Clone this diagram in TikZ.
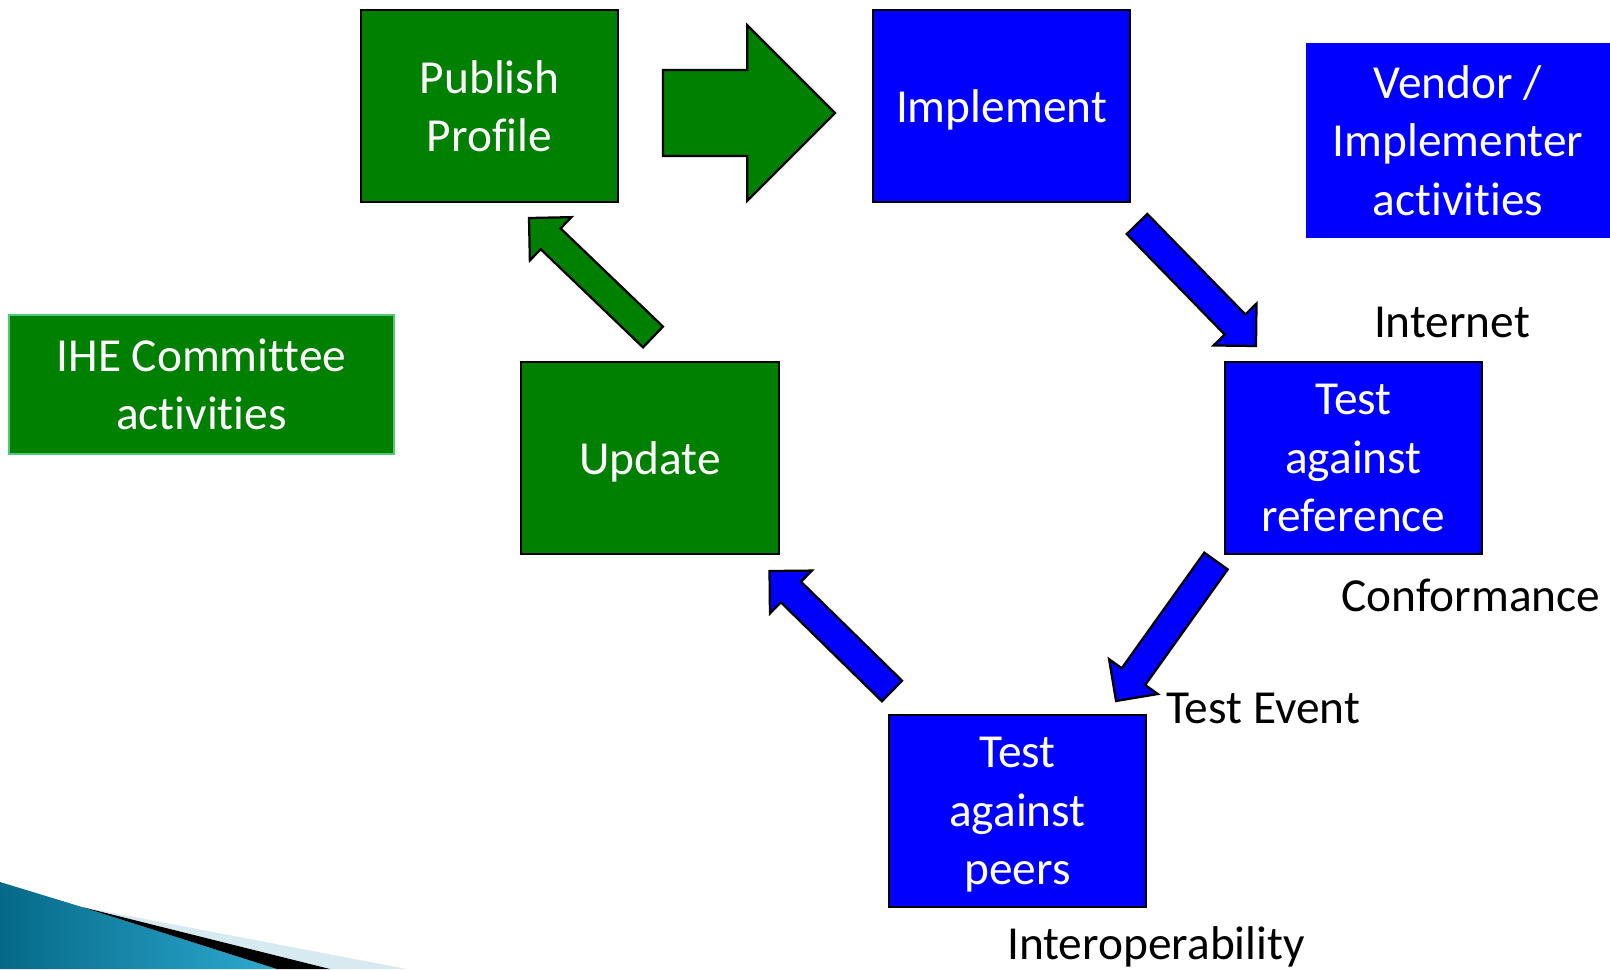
\documentclass[tikz,border=0pt]{standalone}
\usepackage{fontspec}
\setmainfont{Carlito}[Ligatures=NoCommon]
\usetikzlibrary{calc}
\definecolor{ihegreen}{RGB}{0,128,0}
\definecolor{ihelight}{RGB}{80,200,120}
\definecolor{tealdark}{RGB}{5,105,135}
\definecolor{teallight}{RGB}{45,170,210}
\definecolor{palesky}{RGB}{215,234,242}

% block arrow: #1 style, #2 tail, #3 tip, #4 half shaft, #5 half head
\newcommand{\blockarrow}[5]{%
  \coordinate (ba-b) at ($(#3)!#5!(#2)$);
  \draw[#1] ($(#2)!#4!90:(#3)$) -- ($(ba-b)!#4!90:(#3)$) -- ($(ba-b)!#5!90:(#3)$)
    -- (#3) -- ($(ba-b)!#5!-90:(#3)$) -- ($(ba-b)!#4!-90:(#3)$) -- ($(#2)!#4!-90:(#3)$) -- cycle;
}
% drop the descender so the line sits like the slide
\newcommand{\nodepth}[1]{\raisebox{0pt}[\height][0pt]{#1}}

\tikzset{
  box/.style={draw=black, line width=1.4pt, minimum width=6.425cm, minimum height=4.8cm,
    inner sep=0pt, text=white, align=center, font=\fontsize{33.7}{41.6}\selectfont},
  greenbox/.style={box, fill=ihegreen},
  bluebox/.style={box, fill=blue},
  tag/.style={font=\fontsize{33.7}{41.6}\selectfont, text=black, inner sep=0pt},
  greenarrow/.style={draw=black, line width=1.6pt, fill=ihegreen, line join=miter},
  bluearrow/.style={draw=black, line width=1.6pt, fill=blue, line join=miter},
}

\begin{document}
\begin{tikzpicture}[x=0.025cm, y=-0.025cm]
  \useasboundingbox (0,0) rectangle (1610,969);

  % swoosh in the corner
  \shade[left color=tealdark, right color=teallight] (0,882) -- (82,907) -- (277,969) -- (0,969) -- cycle;
  \fill[palesky] (82,907) -- (407,969) -- (330,969) -- cycle;
  \fill[black] (82,907) -- (330,969) -- (277,969) -- cycle;

  % boxes
  \node[greenbox] (publish) at (489.5,106) {Publish\\Profile};
  \node[bluebox] (impl) at (1001.5,106) {\nodepth{Implement}};
  \node[bluebox, draw=none, minimum width=7.6cm, minimum height=4.875cm] (vendor) at (1458,140.5) {Vendor /\\Implementer\\activities};
  \node[greenbox, draw=ihelight, minimum width=9.625cm, minimum height=3.475cm] (ihe) at (201.5,384.5) {IHE Committee\\activities};
  \node[greenbox] (update) at (650,458) {\nodepth{Update}};
  \node[bluebox] (tref) at (1353.5,458) {Test\\against\\reference};
  \node[bluebox] (tpeers) at (1017.5,811) {Test\\against\\\nodepth{peers}};

  % labels
  \node[tag] (internet) at (1452,322) {Internet};
  \node[tag] (conf) at (1471,595) {Conformance};
  \node[tag] (event) at (1263,708) {Test Event};
  \node[tag] (interop) at (1156,947) {Interoperability};

  % arrow ends
  \coordinate (p0) at ($(publish.east)+(44,7)$);
  \coordinate (p1) at ($(impl.west)+(-37,7)$);
  \coordinate (a0) at ($(impl.south east)+(6,21)$);
  \coordinate (a1) at ($(tref.north west)+(32,-15)$);
  \coordinate (b0) at ($(tref.south west)+(-8,6)$);
  \coordinate (b1) at ($(tpeers.north east)+(-31,-13)$);
  \coordinate (c0) at ($(tpeers.north west)+(4,-23)$);
  \coordinate (c1) at ($(update.south east)+(-10,16)$);
  \coordinate (d0) at ($(update.north)+(3,-24)$);
  \coordinate (d1) at ($(publish.south)+(39.5,15)$);

  % arrows
  \blockarrow{greenarrow}{p0}{p1}{1.075cm}{2.19cm}
  \blockarrow{bluearrow}{a0}{a1}{0.36cm}{0.75cm}
  \blockarrow{bluearrow}{b0}{b1}{0.36cm}{0.75cm}
  \blockarrow{bluearrow}{c0}{c1}{0.36cm}{0.75cm}
  \blockarrow{greenarrow}{d0}{d1}{0.36cm}{0.75cm}
\end{tikzpicture}
\end{document}
